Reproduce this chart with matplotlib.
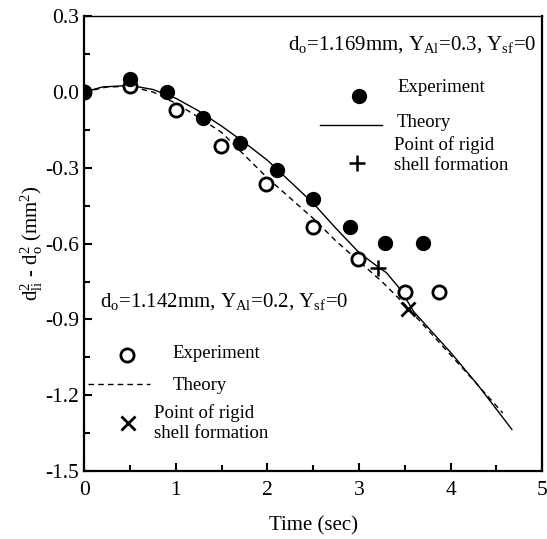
import matplotlib
matplotlib.use('Agg')
import matplotlib.pyplot as plt
from matplotlib.ticker import MultipleLocator, FuncFormatter

plt.rcParams['font.family'] = ['Liberation Serif', 'DejaVu Serif']
plt.rcParams['mathtext.fontset'] = 'custom'
plt.rcParams['mathtext.rm'] = 'Liberation Serif'
plt.rcParams['mathtext.it'] = 'Liberation Serif:italic'
plt.rcParams['axes.unicode_minus'] = False

# --- data ---
# d0 = 1.169 mm, Y_Al = 0.3 (filled circles, solid line)
exp1_t = [0.0, 0.50, 0.90, 1.30, 1.70, 2.10, 2.50, 2.90, 3.29, 3.70]
exp1_v = [0.0, 0.051, 0.0, -0.104, -0.203, -0.310, -0.423, -0.534, -0.597, -0.598]
theo1_t = [0.0, 0.2, 0.5, 0.75, 1.0, 1.25, 1.5, 1.75, 2.0, 2.25, 2.5, 2.75,
           3.0, 3.2, 3.3, 3.45, 3.6, 3.8, 4.0, 4.3, 4.67]
theo1_v = [0.0, 0.02, 0.026, 0.01, -0.025, -0.075, -0.135, -0.20, -0.27, -0.355,
           -0.44, -0.54, -0.635, -0.69, -0.715, -0.78, -0.87, -0.95, -1.03, -1.16, -1.335]
shell1 = (3.21, -0.697)

# d0 = 1.142 mm, Y_Al = 0.2 (open circles, dashed line)
exp2_t = [0.0, 0.50, 1.0, 1.49, 1.98, 2.50, 2.99, 3.50, 3.87]
exp2_v = [0.0, 0.024, -0.071, -0.214, -0.364, -0.534, -0.661, -0.79, -0.79]
theo2_t = [0.0, 0.25, 0.5, 0.75, 1.0, 1.25, 1.5, 1.75, 2.0, 2.25, 2.5, 2.75,
           3.0, 3.25, 3.5, 3.75, 4.0, 4.25, 4.57]
theo2_v = [0.0, 0.02, 0.022, 0.0, -0.045, -0.10, -0.16, -0.25, -0.34, -0.42,
           -0.50, -0.59, -0.67, -0.75, -0.84, -0.94, -1.04, -1.14, -1.27]
shell2 = (3.54, -0.859)

fig = plt.figure(figsize=(5.47, 5.39), dpi=100)
ax = fig.add_axes([0.154, 0.126, 0.837, 0.844])

ax.plot(theo1_t, theo1_v, color='black', lw=1.0)
ax.plot(theo2_t, theo2_v, color='black', lw=1.0, ls=(0, (4, 3)))
ax.plot(exp2_t, exp2_v, 'o', mfc='white', mec='black', mew=2.0, ms=9.5, ls='none')
ax.plot(exp1_t, exp1_v, 'o', color='black', ms=10, ls='none')
ax.plot(*shell1, marker='+', color='black', ms=11, mew=1.8)
ax.plot(*shell2, marker='x', color='black', ms=10, mew=2.0)

# --- in-plot legends and notes ---
fs = 13.5
ax.text(4.94, 0.186, r'd$_\mathrm{o}$=1.169mm, Y$_\mathrm{Al}$=0.3, Y$_\mathrm{sf}$=0',
        ha='right', va='center', fontsize=15)
ax.plot(3.0, -0.016, 'o', color='black', ms=10)
ax.text(3.42, 0.016, 'Experiment', ha='left', va='center', fontsize=fs)
ax.plot([2.57, 3.25], [-0.13, -0.13], color='black', lw=1.0)
ax.text(3.41, -0.119, 'Theory', ha='left', va='center', fontsize=fs)
ax.plot(2.98, -0.28, marker='+', color='black', ms=11, mew=1.8)
ax.text(3.38, -0.25, 'Point of rigid\nshell formation', ha='left', va='center',
        fontsize=fs, linespacing=1.2)

ax.text(0.17, -0.83, r'd$_\mathrm{o}$=1.142mm, Y$_\mathrm{Al}$=0.2, Y$_\mathrm{sf}$=0',
        ha='left', va='center', fontsize=15)
ax.plot(0.47, -1.04, 'o', mfc='white', mec='black', mew=2.0, ms=9.5)
ax.text(0.96, -1.033, 'Experiment', ha='left', va='center', fontsize=fs)
ax.plot([0.04, 0.72], [-1.155, -1.155], color='black', lw=1.0, ls=(0, (4, 3)))
ax.text(0.96, -1.16, 'Theory', ha='left', va='center', fontsize=fs)
ax.plot(0.48, -1.31, marker='x', color='black', ms=10, mew=2.0)
ax.text(0.76, -1.31, 'Point of rigid\nshell formation', ha='left', va='center',
        fontsize=fs, linespacing=1.2)

# --- axes ---
ax.set_xlim(0, 5)
ax.set_ylim(-1.5, 0.3)
ax.xaxis.set_major_locator(MultipleLocator(1))
ax.xaxis.set_minor_locator(MultipleLocator(0.5))
ax.yaxis.set_major_locator(MultipleLocator(0.3))
ax.yaxis.set_minor_locator(MultipleLocator(0.15))
ax.yaxis.set_major_formatter(FuncFormatter(lambda v, p: f'{v + 0.0:.1f}' if abs(v) > 1e-9 else '0.0'))
ax.tick_params(which='both', direction='in', labelsize=15.5, width=1.5)
ax.tick_params(axis='x', pad=7)
ax.tick_params(which='major', length=6)
ax.tick_params(which='minor', length=4)
for s in ax.spines.values():
    s.set_linewidth(1.6)
ax.spines['top'].set_linewidth(1.0)

ax.set_xlabel('Time (sec)', fontsize=15, labelpad=12)
ax.set_ylabel(r'd$_\mathrm{li}^2$ - d$_\mathrm{o}^2$ (mm$^2$)', fontsize=15, labelpad=0)

fig.savefig('out.png', dpi=100)
